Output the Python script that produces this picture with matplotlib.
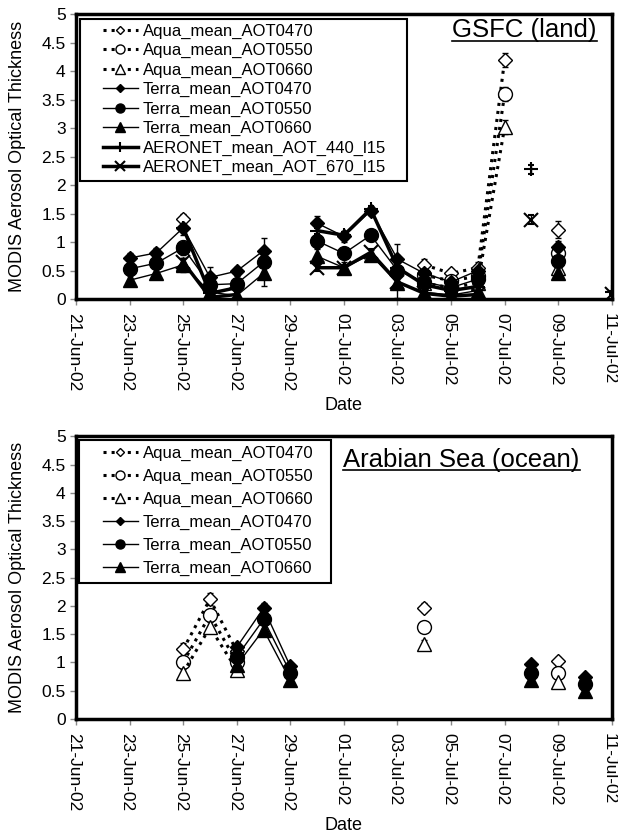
import matplotlib
matplotlib.use('Agg')
import matplotlib.pyplot as plt
import matplotlib.dates as mdates
import matplotlib.transforms as mtransforms
from matplotlib.lines import Line2D
from matplotlib.patches import Rectangle
import numpy as np
import pandas as pd

plt.rcParams['font.family'] = ['Liberation Sans', 'DejaVu Sans']

nan = np.nan

# GSFC (land), daily 23-Jun-02 .. 11-Jul-02
gsfc_dates = pd.date_range('2002-06-23', '2002-07-11', freq='D')
gsfc_aqua_470 = [nan, nan, 1.40, nan, nan, nan, nan, nan, nan, nan, nan, 0.60, 0.45, 0.55, 4.20, nan, 1.22, nan, nan]
gsfc_aqua_550 = [nan, nan, 0.92, nan, nan, nan, nan, nan, nan, nan, nan, 0.42, 0.32, 0.40, 3.60, nan, 0.80, nan, nan]
gsfc_aqua_660 = [nan, nan, 0.62, nan, nan, nan, nan, nan, nan, nan, nan, 0.28, 0.20, 0.28, 3.02, nan, 0.55, nan, nan]
gsfc_terra_470 = [0.72, 0.81, 1.25, 0.38, 0.49, 0.85, nan, 1.33, 1.10, 1.55, 0.70, 0.45, 0.30, 0.50, nan, nan, 0.92, nan, nan]
gsfc_terra_550 = [0.53, 0.63, 0.90, 0.25, 0.27, 0.65, nan, 1.02, 0.80, 1.12, 0.50, 0.30, 0.20, 0.35, nan, nan, 0.67, nan, nan]
gsfc_terra_660 = [0.33, 0.45, 0.60, 0.12, 0.06, 0.45, nan, 0.75, 0.55, 0.78, 0.28, 0.12, 0.07, 0.15, nan, nan, 0.45, nan, nan]
gsfc_aer_440 = [nan, nan, 1.25, 0.10, 0.20, nan, nan, 1.20, 1.12, 1.58, 0.55, 0.25, 0.15, 0.22, nan, 2.28, nan, nan, 0.12]
gsfc_aer_670 = [nan, nan, 0.65, 0.03, 0.08, nan, nan, 0.55, 0.55, 0.82, 0.30, 0.10, 0.05, 0.08, nan, 1.39, nan, nan, 0.08]
gsfc_aqua_err = [nan, nan, 0.10, nan, nan, nan, nan, nan, nan, nan, nan, 0.10, 0.08, 0.10, 0.12, nan, 0.15, nan, nan]
gsfc_terra_err = [0.08, 0.08, 0.12, 0.18, 0.08, 0.22, nan, 0.12, 0.10, 0.08, 0.27, 0.15, 0.10, 0.12, nan, nan, 0.10, nan, nan]
gsfc_aer_err = [nan, nan, 0.05, 0.04, 0.04, nan, nan, 0.05, 0.05, 0.05, 0.05, 0.04, 0.04, 0.04, nan, 0.08, nan, nan, 0.03]

# Arabian Sea (ocean), daily 25-Jun-02 .. 10-Jul-02
sea_dates = pd.date_range('2002-06-25', '2002-07-10', freq='D')
sea_aqua_470 = [1.23, 2.12, 1.20, nan, nan, nan, nan, nan, nan, 1.97, nan, nan, nan, nan, 1.02, nan]
sea_aqua_550 = [1.00, 1.84, 1.00, nan, nan, nan, nan, nan, nan, 1.62, nan, nan, nan, nan, 0.82, nan]
sea_aqua_660 = [0.82, 1.62, 0.87, nan, nan, nan, nan, nan, nan, 1.32, nan, nan, nan, nan, 0.65, nan]
sea_terra_470 = [nan, nan, 1.27, 1.96, 0.93, nan, nan, nan, nan, nan, nan, nan, nan, 0.97, nan, 0.74]
sea_terra_550 = [nan, nan, 1.10, 1.76, 0.82, nan, nan, nan, nan, nan, nan, nan, nan, 0.82, nan, 0.62]
sea_terra_660 = [nan, nan, 0.95, 1.58, 0.68, nan, nan, nan, nan, nan, nan, nan, nan, 0.68, nan, 0.50]
sea_aqua_err = [0.12, 0.10, 0.05, nan, nan, nan, nan, nan, nan, 0.08, nan, nan, nan, nan, 0.08, nan]
sea_terra_err = [nan, nan, 0.05, 0.10, 0.05, nan, nan, nan, nan, nan, nan, nan, nan, 0.05, nan, 0.05]

date_ticks = pd.date_range('2002-06-21', '2002-07-11', freq='2D')
y_ticks = [0, 0.5, 1, 1.5, 2, 2.5, 3, 3.5, 4, 4.5, 5]
y_ticklabels = ['0', '0.5', '1', '1.5', '2', '2.5', '3', '3.5', '4', '4.5', '5']

aqua_style = dict(color='black', ls=':', lw=2.2, mfc='white', mec='black', mew=1)
terra_style = dict(color='black', ls='-', lw=1, mfc='black', mec='black', mew=1)
aer_style = dict(color='black', ls='-', lw=2.5, mec='black', mew=1.5)


def plot_series(ax, dates, y, err, label, marker, ms, style):
    return ax.errorbar(dates, y, yerr=err, label=label, marker=marker, ms=ms,
                       ecolor='black', elinewidth=1, capsize=2.5, capthick=1, **style)


def setup_axes(fig, ax, series, title, tx, ty, leg_box, leg_top, leg_space):
    ax.set_xlim(pd.Timestamp('2002-06-21'), pd.Timestamp('2002-07-11'))
    ax.set_ylim(0, 5)
    ax.set_xticks(date_ticks)
    ax.xaxis.set_major_formatter(mdates.DateFormatter('%d-%b-%y'))
    ax.set_yticks(y_ticks)
    ax.set_yticklabels(y_ticklabels)
    ax.tick_params(axis='x', labelrotation=270, labelsize=12.5, length=4.5, width=1,
                   color='#888888', pad=5.5)
    ax.tick_params(axis='y', labelsize=12.5, length=4.5, width=1, color='#888888', pad=3)
    shift = mtransforms.ScaledTranslation(-0.025, 0, fig.dpi_scale_trans)
    for lab in ax.get_xticklabels():
        lab.set_transform(lab.get_transform() + shift)
    for s in ax.spines.values():
        s.set_linewidth(2.5)
    ax.set_xlabel('Date', fontsize=13, labelpad=4.5)
    ax.set_ylabel('MODIS Aerosol Optical Thickness', fontsize=13)
    ax.yaxis.set_label_coords(-0.093, 0.5)
    t = ax.text(tx, ty, title, transform=ax.transAxes, ha='right', va='top', fontsize=18.5)
    # legend shows only the data line of each series (no error bars), box drawn separately
    ax.legend([c[0] for c in series], [c.get_label() for c in series],
              loc='upper left', bbox_to_anchor=(0.05, leg_top), borderaxespad=0,
              borderpad=0, fontsize=12, frameon=False, handlelength=2.1,
              handletextpad=0.3, labelspacing=leg_space, numpoints=1, markerscale=0.65)
    x0, y0, x1, y1 = leg_box
    ax.add_patch(Rectangle((x0, y0), x1 - x0, y1 - y0, transform=ax.transAxes,
                           fill=False, edgecolor='black', lw=1.5, zorder=6))
    return t


fig = plt.figure(figsize=(6.18, 8.33), dpi=100)
ax1 = fig.add_axes([0.123, 0.641, 0.867, 0.342])
ax2 = fig.add_axes([0.123, 0.137, 0.867, 0.339])

s1 = [
    plot_series(ax1, gsfc_dates, gsfc_aqua_470, gsfc_aqua_err, 'Aqua_mean_AOT0470', 'D', 7, aqua_style),
    plot_series(ax1, gsfc_dates, gsfc_aqua_550, gsfc_aqua_err, 'Aqua_mean_AOT0550', 'o', 10, aqua_style),
    plot_series(ax1, gsfc_dates, gsfc_aqua_660, gsfc_aqua_err, 'Aqua_mean_AOT0660', '^', 10, aqua_style),
    plot_series(ax1, gsfc_dates, gsfc_terra_470, gsfc_terra_err, 'Terra_mean_AOT0470', 'D', 7, terra_style),
    plot_series(ax1, gsfc_dates, gsfc_terra_550, gsfc_terra_err, 'Terra_mean_AOT0550', 'o', 10, terra_style),
    plot_series(ax1, gsfc_dates, gsfc_terra_660, gsfc_terra_err, 'Terra_mean_AOT0660', '^', 10, terra_style),
    plot_series(ax1, gsfc_dates, gsfc_aer_440, gsfc_aer_err, 'AERONET_mean_AOT_440_l15', '+', 10, aer_style),
    plot_series(ax1, gsfc_dates, gsfc_aer_670, gsfc_aer_err, 'AERONET_mean_AOT_670_l15', 'x', 10, aer_style),
]
t1 = setup_axes(fig, ax1, s1, 'GSFC (land)', 0.972, 0.985,
                (0.0075, 0.414, 0.6175, 0.982), 0.967, 0.26)

s2 = [
    plot_series(ax2, sea_dates, sea_aqua_470, sea_aqua_err, 'Aqua_mean_AOT0470', 'D', 7, aqua_style),
    plot_series(ax2, sea_dates, sea_aqua_550, sea_aqua_err, 'Aqua_mean_AOT0550', 'o', 10, aqua_style),
    plot_series(ax2, sea_dates, sea_aqua_660, sea_aqua_err, 'Aqua_mean_AOT0660', '^', 10, aqua_style),
    plot_series(ax2, sea_dates, sea_terra_470, sea_terra_err, 'Terra_mean_AOT0470', 'D', 7, terra_style),
    plot_series(ax2, sea_dates, sea_terra_550, sea_terra_err, 'Terra_mean_AOT0550', 'o', 10, terra_style),
    plot_series(ax2, sea_dates, sea_terra_660, sea_terra_err, 'Terra_mean_AOT0660', '^', 10, terra_style),
]
t2 = setup_axes(fig, ax2, s2, 'Arabian Sea (ocean)', 0.94, 0.96,
                (0.005, 0.482, 0.476, 0.986), 0.968, 0.48)

# underline the panel titles
fig.canvas.draw()
r = fig.canvas.get_renderer()
for t in (t1, t2):
    bb = t.get_window_extent(r).transformed(fig.transFigure.inverted())
    fig.add_artist(Line2D([bb.x0, bb.x1], [bb.y0 + 0.002, bb.y0 + 0.002],
                          transform=fig.transFigure, color='black', lw=1.2))

fig.savefig('out.png', dpi=100)
